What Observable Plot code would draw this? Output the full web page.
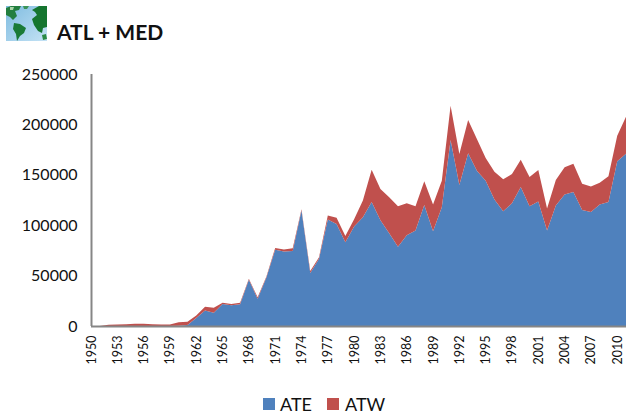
<!DOCTYPE html>
<html>
<head>
<meta charset="utf-8">
<script src="https://cdn.jsdelivr.net/npm/d3@7"></script>
<script src="https://cdn.jsdelivr.net/npm/@observablehq/plot@0.6"></script>
<style>
html,body{margin:0;padding:0;background:#fff;overflow:hidden}
#page{width:626px;height:419px;font-family:Lato,"Open Sans",sans-serif;color:#000}
#head{height:60px;position:relative}
#head svg{position:absolute;left:6px;top:6px}
#title{position:absolute;left:57px;top:20px;font-size:21px;font-weight:700;line-height:24px;color:#111}
#plot{height:320px}
#plot svg{display:block}
#legend{position:relative;height:39px;font-size:18px;line-height:22px;color:#111}
#legend i{position:absolute;top:18px;width:12px;height:12px}
#legend span{position:absolute;top:13px}
</style>
</head>
<body>
<div id="page">
  <div id="head">
    <svg width="41" height="35" viewBox="0 0 41 35">
      <defs><linearGradient id="sea" x1="0" y1="0" x2="1" y2="1"><stop offset="0" stop-color="#7fbce0"/><stop offset="1" stop-color="#c4e2f5"/></linearGradient></defs>
      <rect width="41" height="35" fill="url(#sea)"/>
      <path d="M0 2 5 0H15L13 4 9 5 11 10 7 14 4 11 0 9Z" fill="#237f3f"/>
      <path d="M4 1 8 1 7 4 4 4Z" fill="#a9d5a8"/>
      <path d="M8 17 14 18 20 22 18 27 14 30 11 35 10 28 7 23Z" fill="#1a7a36"/>
      <path d="M26 4 33 0H41V21L37 22 36 27 32 25 28 19 26 13 31 9 29 6Z" fill="#15752f"/>
      <path d="M17 0H23L21 3 18 3Z" fill="#3c9458"/>
      <path d="M36 29 40 28 41 33 37 34Z" fill="#2b8a45"/>
    </svg>
    <div id="title">ATL + MED</div>
  </div>
  <div id="plot"></div>
  <div id="legend">
    <i style="left:263px;background:#4F81BD"></i><span style="left:280px">ATE</span>
    <i style="left:327px;background:#C0504D"></i><span style="left:345px">ATW</span>
  </div>
</div>
<script>
const years = d3.range(1950, 2012);
const ate = [0,0,0,0,0,0,0,0,0,0,200,1000,8000,15500,13200,21800,20500,21500,45900,27000,48200,75600,74000,74500,114500,52500,66700,105600,101300,83200,98700,108000,123000,105000,92000,78500,90000,94700,120000,94000,117800,184500,140000,171300,154100,144200,125400,113800,121800,138000,118800,123400,94700,119500,130400,133000,115200,113200,120500,123000,163400,171000];
const atw = [0,100,1200,1500,1700,2200,2300,1700,1400,1500,3600,3300,2500,3500,4900,1200,1300,1500,1000,1400,1000,1900,2000,2700,1300,2000,1600,4000,6000,6200,7300,16400,32000,31000,35700,40300,31800,24100,23500,26500,26400,34000,30600,33000,31400,22400,27700,31700,29000,27000,29000,31400,21800,25400,27000,28000,26000,25100,21700,25500,25400,36500];
const series = ["ATE","ATW"];
const colors = ["#4F81BD","#C0504D"];
const yTicks = [0,50000,100000,150000,200000,250000];
const xTicks = d3.range(1950, 2011, 3);

const rows = years.flatMap((year,i)=>[
  {year, series:"ATE", value:ate[i]},
  {year, series:"ATW", value:atw[i]}
]);

const chart = Plot.plot({
  width:626, height:320,
  marginLeft:91, marginRight:0, marginTop:14, marginBottom:54,
  style:{fontFamily:"Lato,'Open Sans',sans-serif", background:"#fff", overflow:"hidden"},
  x:{domain:[1950,2011], label:null},
  y:{domain:[0,250000], label:null},
  color:{domain:series, range:colors},
  marks:[
    Plot.areaY(rows, {x:"year", y:"value", fill:"series", order:series, curve:"linear"}),
    Plot.ruleX([1950], {stroke:"#868686", strokeWidth:2}),
    Plot.ruleY([0], {stroke:"#868686", strokeWidth:2}),
    Plot.axisY({ticks:yTicks, tickSize:0, tickPadding:14, fontSize:16, label:null, tickFormat:d=>String(d), fill:"#111"}),
    Plot.axisX({ticks:xTicks, tickSize:0, tickPadding:9, fontSize:12.5, label:null, tickFormat:d=>String(d), tickRotate:-90, fill:"#111"})
  ]
});
document.getElementById("plot").appendChild(chart);
</script>
</body>
</html>
